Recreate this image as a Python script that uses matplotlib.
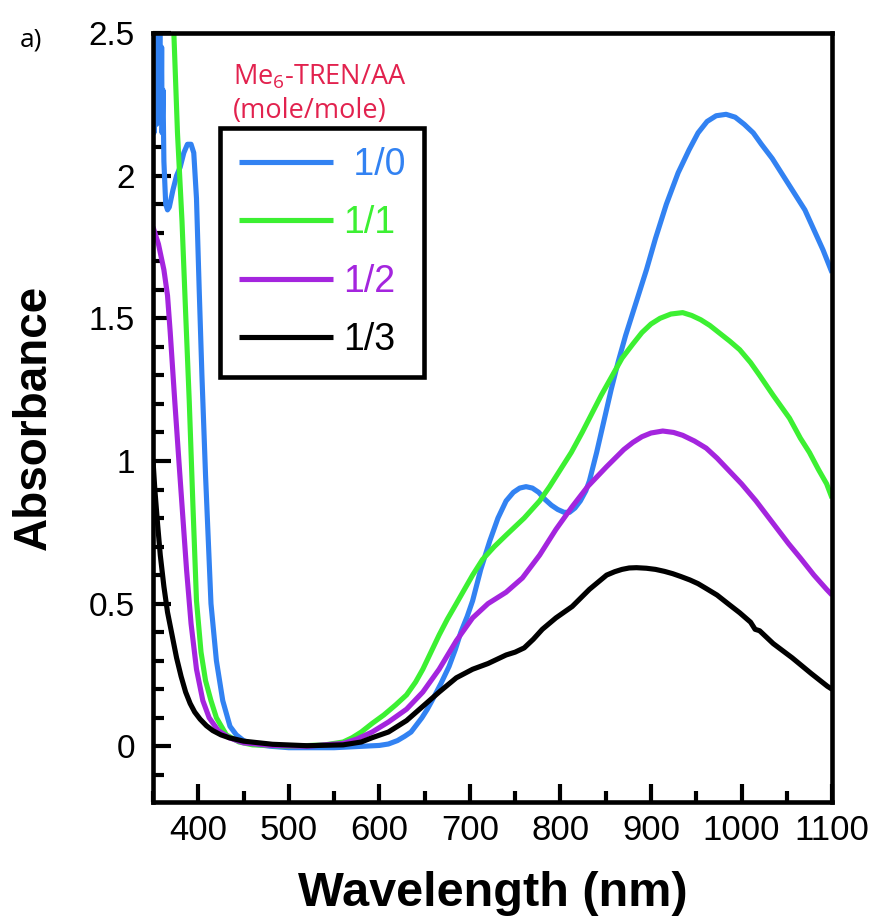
import matplotlib
matplotlib.use("Agg")
import matplotlib.pyplot as plt
from matplotlib.ticker import MultipleLocator, FixedLocator

plt.rcParams['font.family'] = ['Liberation Sans', 'DejaVu Sans']
plt.rcParams['mathtext.fontset'] = 'custom'
plt.rcParams['mathtext.rm'] = 'Open Sans'

# ---- data ----
labels = [" 1/0", "1/1", "1/2", "1/3"]
colors = ["#3282f2", "#3cf032", "#a425de", "#000000"]

wl_10 = [350, 350.5, 351, 351.5, 352, 352.5, 353, 353.5, 354, 354.5, 355, 355.5, 356, 356.5,
         357, 357.5, 358, 358.5, 359, 359.5, 360, 361, 362, 364, 366, 368,
         372, 376, 380, 384, 388, 392, 395, 398, 401, 404, 408, 414, 420, 427, 435, 442,
         450, 460, 480, 500, 550, 600, 610, 620, 628, 635, 641, 647, 653, 659, 668, 677,
         684, 690, 697, 703, 712, 722, 731, 740, 748, 755, 762, 769, 776, 783, 790, 797,
         804, 810, 816, 822, 828, 832, 840, 848, 856, 864, 872, 880, 888, 895, 905, 917,
         930, 942, 952, 962, 972, 983, 993, 1003, 1013, 1022, 1034, 1046, 1058, 1070, 1080,
         1090, 1100]
abs_10 = [2.30, 2.50, 2.15, 2.45, 2.20, 2.50, 2.25, 2.48, 2.18, 2.45, 2.30, 2.50, 2.20, 2.48,
          2.30, 2.50, 2.20, 2.42, 2.25, 2.45, 2.15, 2.30, 2.05, 1.90, 1.88, 1.89,
          1.95, 2.00, 2.03, 2.08, 2.11, 2.11, 2.08, 1.92, 1.60, 1.30, 0.95, 0.50, 0.30, 0.16, 0.07, 0.04,
          0.02, 0.008, 0.0, -0.005, -0.005, 0.003, 0.008, 0.02, 0.035, 0.05, 0.075, 0.10, 0.13, 0.165, 0.22, 0.28,
          0.34, 0.40, 0.455, 0.51, 0.62, 0.72, 0.80, 0.86, 0.89, 0.905, 0.91, 0.905, 0.89, 0.865, 0.845, 0.83,
          0.82, 0.82, 0.835, 0.86, 0.895, 0.93, 1.03, 1.14, 1.25, 1.35, 1.44, 1.52, 1.60, 1.67, 1.78, 1.90,
          2.01, 2.09, 2.15, 2.19, 2.21, 2.215, 2.205, 2.18, 2.15, 2.11, 2.06, 2.00, 1.94, 1.88, 1.81,
          1.74, 1.66]

wl_11 = [370, 373, 377, 382, 386, 390, 394, 398, 403, 408, 414, 420, 431, 445, 460, 500, 540,
         560, 570, 580, 592, 605, 618, 630, 640, 648, 657, 666, 675, 685, 694, 703, 714, 727,
         740, 760, 777, 788, 800, 812, 824, 845, 868, 880, 890, 900, 910, 922, 935, 945, 955,
         965, 975, 987, 998, 1010, 1020, 1035, 1053, 1065, 1075, 1085, 1094, 1100]
abs_11 = [2.72, 2.50, 2.15, 1.84, 1.52, 1.21, 0.85, 0.51, 0.33, 0.23, 0.16, 0.10, 0.04, 0.015, 0.005, 0.0, 0.005,
          0.015, 0.03, 0.05, 0.08, 0.11, 0.145, 0.18, 0.225, 0.27, 0.33, 0.39, 0.445, 0.50, 0.55, 0.60, 0.655, 0.70,
          0.74, 0.80, 0.86, 0.91, 0.97, 1.03, 1.10, 1.23, 1.36, 1.41, 1.45, 1.48, 1.50, 1.515, 1.52, 1.51, 1.495,
          1.475, 1.45, 1.42, 1.39, 1.345, 1.30, 1.23, 1.15, 1.08, 1.03, 0.97, 0.92, 0.87]

wl_12 = [350, 356, 362, 366, 369, 374, 379, 383, 387, 392, 398, 405, 412, 422, 434, 450, 480,
         520, 560, 575, 592, 610, 630, 648, 666, 685, 703, 720, 740, 758, 777, 795, 813, 830,
         851, 870, 880, 890, 900, 913, 925, 935, 948, 961, 973, 985, 1000, 1016, 1028, 1040,
         1052, 1065, 1080, 1094, 1100]
abs_12 = [1.82, 1.76, 1.67, 1.58, 1.45, 1.21, 0.98, 0.80, 0.62, 0.43, 0.27, 0.16, 0.10, 0.055, 0.03, 0.012, 0.003,
          0.0, 0.01, 0.025, 0.05, 0.085, 0.13, 0.19, 0.27, 0.37, 0.45, 0.50, 0.54, 0.59, 0.67, 0.76, 0.84, 0.91,
          0.98, 1.04, 1.065, 1.085, 1.098, 1.105, 1.10, 1.09, 1.07, 1.045, 1.01, 0.97, 0.92, 0.86, 0.81, 0.76,
          0.71, 0.66, 0.60, 0.55, 0.53]

wl_13 = [350, 352, 355, 358, 362, 366, 371, 376, 381, 386, 391, 396, 402, 409, 416, 425, 434,
         450, 482, 520, 560, 580, 592, 610, 630, 648, 666, 685, 703, 720, 740, 750, 760, 770,
         780, 795, 813, 832, 851, 860, 868, 876, 884, 895, 905, 915, 924, 933, 943, 952, 961,
         973, 985, 998, 1010, 1015, 1020, 1035, 1056, 1077, 1095, 1100]
abs_13 = [1.00, 0.90, 0.78, 0.67, 0.56, 0.47, 0.39, 0.31, 0.245, 0.19, 0.15, 0.12, 0.095, 0.072, 0.055, 0.04, 0.03,
          0.018, 0.007, 0.002, 0.005, 0.015, 0.03, 0.05, 0.09, 0.14, 0.19, 0.24, 0.27, 0.29, 0.32, 0.33, 0.345, 0.375,
          0.41, 0.45, 0.49, 0.55, 0.60, 0.612, 0.62, 0.625, 0.626, 0.624, 0.62, 0.613, 0.605, 0.595, 0.583, 0.57, 0.553,
          0.53, 0.50, 0.468, 0.435, 0.41, 0.405, 0.36, 0.31, 0.255, 0.21, 0.20]

x_ticks = [400, 500, 600, 700, 800, 900, 1000, 1100]
y_ticks = [0, 0.5, 1, 1.5, 2, 2.5]
y_ticklabels = ["0", "0.5", "1", "1.5", "2", "2.5"]

series = [(wl_10, abs_10), (wl_11, abs_11), (wl_12, abs_12), (wl_13, abs_13)]

# ---- figure ----
fig = plt.figure(figsize=(8.8, 9.17), dpi=100)
ax = fig.add_axes([0.1739, 0.1255, 0.7716, 0.8385])

for (x, y), c, lab in zip(series, colors, labels):
    ax.plot(x, y, color=c, lw=3.7, label=lab, solid_joinstyle='round', solid_capstyle='butt')

ax.set_xlim(350, 1100)
ax.set_ylim(-0.195, 2.5)

ax.xaxis.set_major_locator(FixedLocator(x_ticks))
ax.xaxis.set_minor_locator(MultipleLocator(50))
ax.yaxis.set_major_locator(FixedLocator(y_ticks))
ax.set_yticklabels(y_ticklabels)
ax.yaxis.set_minor_locator(MultipleLocator(0.1))

ax.tick_params(axis='both', which='both', direction='in', top=False, right=False, width=3.0)
ax.tick_params(axis='both', which='major', length=13)
ax.tick_params(axis='both', which='minor', length=8)
ax.tick_params(axis='x', which='major', labelsize=25, pad=9)
ax.tick_params(axis='y', which='major', labelsize=24, pad=13)

for s in ax.spines.values():
    s.set_linewidth(3.3)

ax.set_xlabel("Wavelength (nm)", fontsize=35, fontweight='bold', labelpad=17)
ax.set_ylabel("Absorbance", fontsize=33, fontweight='bold', labelpad=24)

leg = ax.legend(loc='upper left', bbox_to_anchor=(0.0987, 0.8765), borderaxespad=0,
                fontsize=27, handlelength=2.5, handletextpad=0.27, labelspacing=0.6,
                borderpad=0.5, fancybox=False, framealpha=1, edgecolor='black',
                labelcolor='linecolor')
leg.get_frame().set_linewidth(3.3)

ax.text(0.118, 0.943, "Me$_6$-TREN/AA", transform=ax.transAxes, fontsize=19.5,
        family='Open Sans', color='#e2224e', va='center', ha='left')
ax.text(0.118, 0.898, "(mole/mole)", transform=ax.transAxes, fontsize=19.5,
        family='Open Sans', color='#e2224e', va='center', ha='left')

fig.text(0.022, 0.956, "a)", fontsize=19, family='Open Sans', va='center', ha='left')

fig.savefig("out.png", dpi=100)
